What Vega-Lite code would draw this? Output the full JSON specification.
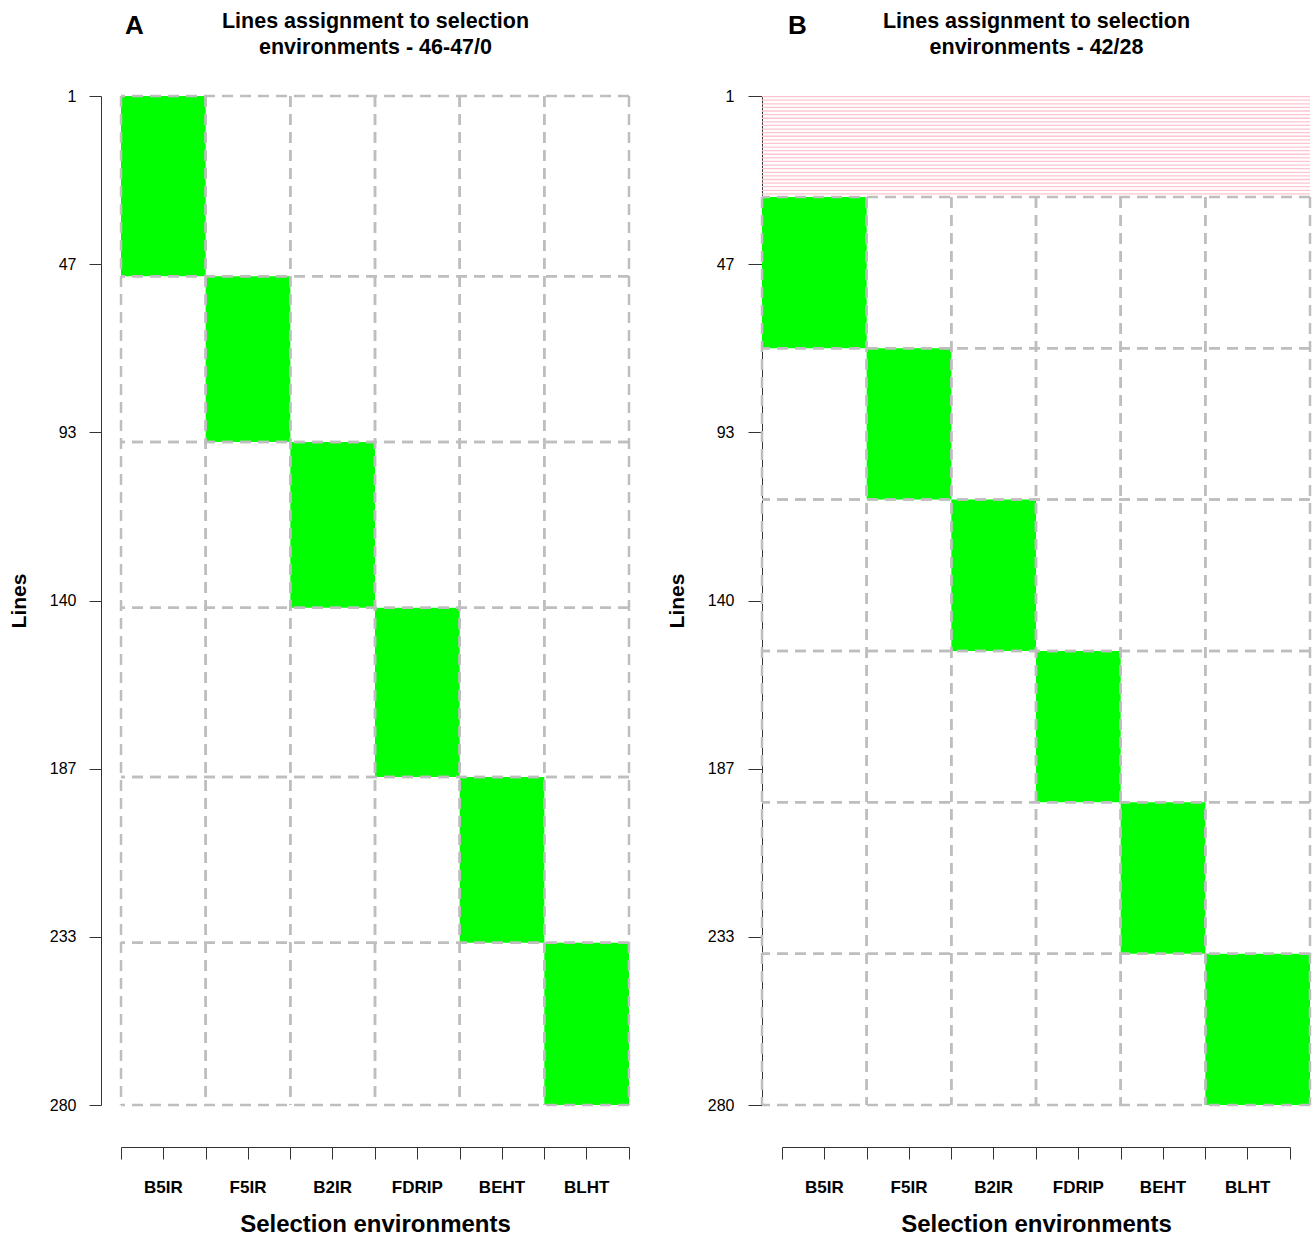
{
  "$schema": "https://vega.github.io/schema/vega-lite/v6.json",
  "datasets": {
    "blocksA": [
      {"env": "B5IR", "x0": 0, "x1": 1, "start": 0, "end": 50},
      {"env": "F5IR", "x0": 1, "x1": 2, "start": 50, "end": 96},
      {"env": "B2IR", "x0": 2, "x1": 3, "start": 96, "end": 142},
      {"env": "FDRIP", "x0": 3, "x1": 4, "start": 142, "end": 189},
      {"env": "BEHT", "x0": 4, "x1": 5, "start": 189, "end": 235},
      {"env": "BLHT", "x0": 5, "x1": 6, "start": 235, "end": 280}
    ],
    "blocksB": [
      {"env": "B5IR", "x0": -0.236, "x1": 1, "start": 28, "end": 70},
      {"env": "F5IR", "x0": 1, "x1": 2, "start": 70, "end": 112},
      {"env": "B2IR", "x0": 2, "x1": 3, "start": 112, "end": 154},
      {"env": "FDRIP", "x0": 3, "x1": 4, "start": 154, "end": 196},
      {"env": "BEHT", "x0": 4, "x1": 5, "start": 196, "end": 238},
      {"env": "BLHT", "x0": 5, "x1": 6.236, "start": 238, "end": 280}
    ],
    "unassignedB": [
      {"row": 1}, {"row": 2}, {"row": 3}, {"row": 4}, {"row": 5}, {"row": 6}, {"row": 7},
      {"row": 8}, {"row": 9}, {"row": 10}, {"row": 11}, {"row": 12}, {"row": 13}, {"row": 14},
      {"row": 15}, {"row": 16}, {"row": 17}, {"row": 18}, {"row": 19}, {"row": 20}, {"row": 21},
      {"row": 22}, {"row": 23}, {"row": 24}, {"row": 25}, {"row": 26}, {"row": 27}, {"row": 28}
    ]
  },
  "padding": {"left": 8, "top": 10, "right": 0, "bottom": 0},
  "spacing": 35,
  "hconcat": [
    {
      "title": {"text": "A", "anchor": "start", "frame": "group", "fontSize": 26, "fontWeight": "bold", "dx": 4, "dy": 29, "offset": 0},
      "width": 508,
      "height": 1009,
      "data": {"name": "blocksA"},
      "layer": [
        {
          "mark": {"type": "rect", "color": "#00ff00"},
          "encoding": {
            "x": {"field": "x0", "type": "quantitative", "scale": {"domain": [0, 6], "nice": false, "zero": false}, "axis": null},
            "x2": {"field": "x1"},
            "y": {"field": "start", "type": "quantitative", "title": "Lines",
              "scale": {"domain": [0, 280], "reverse": true, "nice": false, "zero": false},
              "axis": {"values": [0, 46.667, 93.333, 140, 186.667, 233.333, 280], "labelExpr": "datum.value < 1 ? '1' : format(datum.value, '.0f')", "offset": 20, "tickSize": 12, "labelPadding": 13, "labelFontSize": 16, "titleFontSize": 21, "titleFontWeight": "bold", "titlePadding": 20}},
            "y2": {"field": "end"}
          }
        },
        {
          "transform": [{"fold": ["start", "end"], "as": ["edge", "pos"]}],
          "mark": {"type": "rule", "color": "#bebebe", "strokeWidth": 2.5, "strokeDash": [11, 7]},
          "encoding": {"y": {"field": "pos", "type": "quantitative", "title": "Lines"}}
        },
        {
          "transform": [{"fold": ["x0", "x1"], "as": ["edge", "pos"]}],
          "mark": {"type": "rule", "color": "#bebebe", "strokeWidth": 2.5, "strokeDash": [11, 7]},
          "encoding": {
            "x": {"field": "pos", "type": "quantitative", "scale": {"domain": [0, 6], "nice": false, "zero": false}, "axis": null},
            "y": {"datum": 0, "type": "quantitative", "title": "Lines"},
            "y2": {"datum": 280}
          }
        },
        {
          "mark": {"type": "rule", "opacity": 0},
          "encoding": {
            "x": {"field": "env", "type": "nominal", "sort": null, "scale": {"type": "band", "paddingInner": 0, "paddingOuter": 0, "range": [0, 508]},
              "axis": {"orient": "bottom", "offset": 42, "tickBand": "extent", "labels": false, "title": null, "tickSize": 12, "domain": true}}
          }
        },
        {
          "mark": {"type": "rule", "opacity": 0},
          "encoding": {
            "x": {"field": "env", "type": "nominal", "sort": null, "scale": {"type": "band", "paddingInner": 0, "paddingOuter": 0, "range": [0, 508]},
              "axis": {"orient": "bottom", "offset": 42, "tickBand": "center", "domain": false, "tickSize": 12, "labelAngle": 0, "labelFontSize": 17, "labelFontWeight": "bold", "labelPadding": 20, "title": "Selection environments", "titleFontSize": 24, "titleFontWeight": "bold", "titlePadding": 17}}
          }
        },
        {
          "mark": {"type": "rule", "opacity": 0},
          "encoding": {
            "x": {"field": "env", "type": "nominal", "sort": null, "scale": {"type": "band", "paddingInner": 0, "paddingOuter": 0, "range": [0, 508]},
              "axis": {"orient": "top", "domain": false, "ticks": false, "labels": false, "title": ["Lines assignment to selection", "environments - 46-47/0"], "titleFontSize": 21.5, "titleFontWeight": "bold", "titleLineHeight": 26, "titlePadding": 38}}
          }
        }
      ],
      "resolve": {"scale": {"x": "independent"}, "axis": {"x": "independent"}}
    },
    {
      "title": {"text": "B", "anchor": "start", "frame": "group", "fontSize": 26, "fontWeight": "bold", "dx": 26, "dy": 29, "offset": 0},
      "width": 548,
      "height": 1009,
      "layer": [
        {
          "data": {"name": "blocksB"},
          "mark": {"type": "rect", "color": "#00ff00"},
          "encoding": {
            "x": {"field": "x0", "type": "quantitative", "scale": {"domain": [-0.236, 6.236], "nice": false, "zero": false}, "axis": null},
            "x2": {"field": "x1"},
            "y": {"field": "start", "type": "quantitative", "title": "Lines",
              "scale": {"domain": [0, 280], "reverse": true, "nice": false, "zero": false},
              "axis": {"values": [0, 46.667, 93.333, 140, 186.667, 233.333, 280], "labelExpr": "datum.value < 1 ? '1' : format(datum.value, '.0f')", "offset": 0, "tickSize": 14, "labelPadding": 14, "labelFontSize": 16, "titleFontSize": 21, "titleFontWeight": "bold", "titlePadding": 20}},
            "y2": {"field": "end"}
          }
        },
        {
          "data": {"name": "unassignedB"},
          "mark": {"type": "rule", "color": "#ffc4cf", "strokeWidth": 1.3, "yOffset": -3},
          "encoding": {"y": {"field": "row", "type": "quantitative", "title": "Lines"}}
        },
        {
          "data": {"name": "blocksB"},
          "transform": [{"fold": ["start", "end"], "as": ["edge", "pos"]}],
          "mark": {"type": "rule", "color": "#bebebe", "strokeWidth": 2.5, "strokeDash": [11, 7]},
          "encoding": {"y": {"field": "pos", "type": "quantitative", "title": "Lines"}}
        },
        {
          "data": {"name": "blocksB"},
          "transform": [{"fold": ["x0", "x1"], "as": ["edge", "pos"]}],
          "mark": {"type": "rule", "color": "#bebebe", "strokeWidth": 2.5, "strokeDash": [11, 7]},
          "encoding": {
            "x": {"field": "pos", "type": "quantitative", "scale": {"domain": [-0.236, 6.236], "nice": false, "zero": false}, "axis": null},
            "y": {"datum": 28, "type": "quantitative", "title": "Lines"},
            "y2": {"datum": 280}
          }
        },
        {
          "data": {"name": "blocksB"},
          "mark": {"type": "rule", "opacity": 0},
          "encoding": {
            "x": {"field": "env", "type": "nominal", "sort": null, "scale": {"type": "band", "paddingInner": 0, "paddingOuter": 0, "range": [20, 528]},
              "axis": {"orient": "bottom", "offset": 42, "tickBand": "extent", "labels": false, "title": null, "tickSize": 12, "domain": true}}
          }
        },
        {
          "data": {"name": "blocksB"},
          "mark": {"type": "rule", "opacity": 0},
          "encoding": {
            "x": {"field": "env", "type": "nominal", "sort": null, "scale": {"type": "band", "paddingInner": 0, "paddingOuter": 0, "range": [20, 528]},
              "axis": {"orient": "bottom", "offset": 42, "tickBand": "center", "domain": false, "tickSize": 12, "labelAngle": 0, "labelFontSize": 17, "labelFontWeight": "bold", "labelPadding": 20, "title": "Selection environments", "titleFontSize": 24, "titleFontWeight": "bold", "titlePadding": 17}}
          }
        },
        {
          "data": {"name": "blocksB"},
          "mark": {"type": "rule", "opacity": 0},
          "encoding": {
            "x": {"field": "env", "type": "nominal", "sort": null, "scale": {"type": "band", "paddingInner": 0, "paddingOuter": 0, "range": [0, 548]},
              "axis": {"orient": "top", "domain": false, "ticks": false, "labels": false, "title": ["Lines assignment to selection", "environments - 42/28"], "titleFontSize": 21.5, "titleFontWeight": "bold", "titleLineHeight": 26, "titlePadding": 38}}
          }
        }
      ],
      "resolve": {"scale": {"x": "independent"}, "axis": {"x": "independent"}}
    }
  ],
  "config": {
    "view": {"stroke": null},
    "font": "Liberation Sans",
    "axis": {"domainColor": "#333", "tickColor": "#333", "labelColor": "#000", "titleColor": "#000", "grid": false, "labelFont": "Liberation Sans", "titleFont": "Liberation Sans"},
    "title": {"color": "#000", "font": "Liberation Sans"}
  }
}
